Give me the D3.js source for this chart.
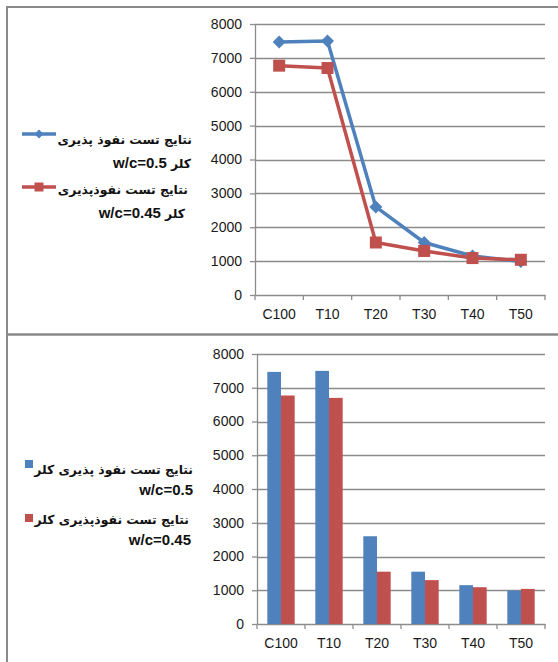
<!DOCTYPE html>
<html>
<head>
<meta charset="utf-8">
<script src="https://cdn.jsdelivr.net/npm/d3@7/dist/d3.min.js"></script>
<style>
  html, body { margin: 0; padding: 0; background: #fff; }
  svg { display: block; }
  .tick text { font-family: "Liberation Sans", Arial, sans-serif; font-size: 14px; fill: #1a1a1a; }
  .legend text { font-family: "Liberation Sans", "DejaVu Sans", sans-serif; font-weight: bold; font-size: 15px; fill: #111; }
  .legend tspan.ar { font-family: "DejaVu Sans", sans-serif; font-size: 12.4px; }
</style>
</head>
<body>
<svg id="chart" width="558" height="662"></svg>
<script>
// Chloride penetration test results per mix
const categories = ["C100", "T10", "T20", "T30", "T40", "T50"];
const seriesNames = ["نتایج تست نفوذ پذیری کلر w/c=0.5", "نتایج تست نفوذپذیری کلر w/c=0.45"];
const valuesWc050 = [7470, 7500, 2600, 1550, 1150, 990];
const valuesWc045 = [6770, 6700, 1550, 1300, 1090, 1040];
const yTicks = [0, 1000, 2000, 3000, 4000, 5000, 6000, 7000, 8000];

const colors = ["#4F81BD", "#C0504D"];
const gridColor = "#8c8c8c";
const series = [valuesWc050, valuesWc045];

const svg = d3.select("#chart");

// panel frames
const frame = svg.append("g").attr("stroke", "#8a8a8a").attr("fill", "none");
frame.append("line").attr("x1", 7).attr("x2", 7).attr("y1", 6).attr("y2", 662).attr("stroke-width", 2);
frame.append("line").attr("x1", 6).attr("x2", 558).attr("y1", 7).attr("y2", 7).attr("stroke-width", 2);
frame.append("line").attr("x1", 6).attr("x2", 558).attr("y1", 334.5).attr("y2", 334.5).attr("stroke-width", 2.5);

function drawFrame(g, x, y) {
  const [x0, x1] = x.range();
  // horizontal gridlines + y axis
  g.append("g")
    .selectAll("line")
    .data(yTicks.filter(d => d > 0))
    .join("line")
    .attr("x1", x0).attr("x2", x1)
    .attr("y1", d => Math.round(y(d)) + 0.5).attr("y2", d => Math.round(y(d)) + 0.5)
    .attr("stroke", gridColor).attr("stroke-width", 1.3);

  const yAxis = g.append("g")
    .attr("transform", `translate(${x0},0)`)
    .call(d3.axisLeft(y).tickValues(yTicks).tickSize(5).tickSizeOuter(0).tickPadding(8).tickFormat(d3.format("d")));
  yAxis.select(".domain").attr("stroke", gridColor).attr("stroke-width", 1.3);
  yAxis.selectAll(".tick line").attr("stroke", gridColor).attr("stroke-width", 1.3);

  const y0 = y(0);
  const xAxis = g.append("g")
    .attr("transform", `translate(0,${y0})`)
    .call(d3.axisBottom(x).tickSize(0).tickPadding(14));
  xAxis.select(".domain").attr("stroke", gridColor).attr("stroke-width", 1.3);
  // category boundary ticks
  const bounds = categories.map(c => x(c)).concat([x1]);
  g.append("g")
    .selectAll("line")
    .data(bounds)
    .join("line")
    .attr("x1", d => d).attr("x2", d => d)
    .attr("y1", y0).attr("y2", y0 + 5)
    .attr("stroke", gridColor).attr("stroke-width", 1.3);
}

// legend text line: Arabic runs and Latin runs get their own tspans
function legendLine(g, parts, x, y) {
  const t = g.append("text").attr("x", x).attr("y", y)
    .attr("direction", "rtl").attr("text-anchor", "start");
  parts.forEach(p => {
    const isAr = /[\u0600-\u06FF]/.test(p);
    t.append("tspan").attr("class", isAr ? "ar" : "lat").text(p);
  });
}

// ---------- line chart ----------
const gLine = svg.append("g");
const xL = d3.scaleBand().domain(categories).range([255, 545]);
const yL = d3.scaleLinear().domain([0, 8000]).range([295, 24]);
drawFrame(gLine, xL, yL);

const line = d3.line().x((d, i) => xL(categories[i]) + xL.bandwidth() / 2).y(d => yL(d));
const diamond = s => `M0,${-s}L${s},0L0,${s}L${-s},0Z`;

series.forEach((vals, si) => {
  gLine.append("path")
    .datum(vals)
    .attr("d", line)
    .attr("fill", "none")
    .attr("stroke", colors[si])
    .attr("stroke-width", 3.5)
    .attr("stroke-linejoin", "round");
});
series.forEach((vals, si) => {
  const m = gLine.append("g").selectAll("path")
    .data(vals)
    .join("path")
    .attr("transform", (d, i) => `translate(${xL(categories[i]) + xL.bandwidth() / 2},${yL(d)})`)
    .attr("fill", colors[si]);
  if (si === 0) m.attr("d", diamond(6.5));
  else m.attr("d", "M-6,-6H6V6H-6Z");
});

// legend (line chart)
const legL = svg.append("g").attr("class", "legend");
const legLItems = [
  { y: 134, lines: [[["نتایج تست نفوذ پذیری"], 192, 144], [["کلر", " w/c=0.5"], 191, 168]] },
  { y: 187, lines: [[["نتایج تست نفوذپذیری"], 188, 194], [["کلر", " w/c=0.45"], 185, 218]] }
];
legLItems.forEach((it, si) => {
  legL.append("line").attr("x1", 22).attr("x2", 56).attr("y1", it.y).attr("y2", it.y)
    .attr("stroke", colors[si]).attr("stroke-width", 3.5);
  legL.append("path")
    .attr("transform", `translate(39,${it.y})`)
    .attr("d", si === 0 ? diamond(4.5) : "M-4.5,-4.5H4.5V4.5H-4.5Z")
    .attr("fill", colors[si]);
  it.lines.forEach(([parts, x, y]) => legendLine(legL, parts, x, y));
});

// ---------- bar chart ----------
const gBar = svg.append("g");
const xB = d3.scaleBand().domain(categories).range([257, 545]);
const yB = d3.scaleLinear().domain([0, 8000]).range([624, 354]);
drawFrame(gBar, xB, yB);

const groupW = xB.bandwidth() * 0.57;
const xSub = d3.scaleBand().domain([0, 1]).range([0, groupW]);
series.forEach((vals, si) => {
  gBar.append("g").selectAll("rect")
    .data(vals)
    .join("rect")
    .attr("x", (d, i) => xB(categories[i]) + (xB.bandwidth() - groupW) / 2 + xSub(si))
    .attr("width", xSub.bandwidth())
    .attr("y", d => yB(d))
    .attr("height", d => yB(0) - yB(d))
    .attr("fill", colors[si]);
});

// legend (bar chart)
const legB = svg.append("g").attr("class", "legend");
const legBItems = [
  { y: 464, lines: [[["نتایج تست نفوذ پذیری کلر"], 193, 474], [["w/c=0.5"], 193, 495]] },
  { y: 518, lines: [[["نتایج تست نفوذپذیری کلر"], 189, 524], [["w/c=0.45"], 191, 545]] }
];
legBItems.forEach((it, si) => {
  legB.append("rect").attr("x", 25).attr("y", it.y - 4).attr("width", 8).attr("height", 8)
    .attr("fill", colors[si]);
  it.lines.forEach(([parts, x, y]) => legendLine(legB, parts, x, y));
});
</script>
</body>
</html>
